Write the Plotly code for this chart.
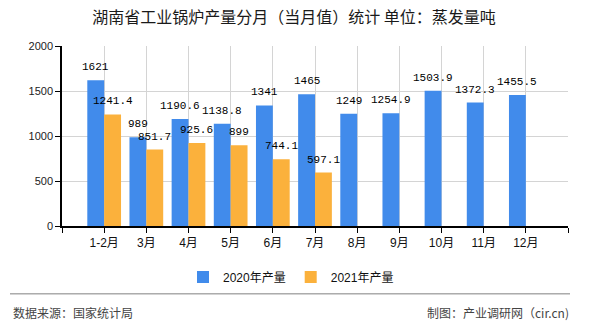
import plotly.graph_objects as go

categories = ["1-2月", "3月", "4月", "5月", "6月", "7月", "8月", "9月", "10月", "11月", "12月"]
prod_2020 = [1621, 989, 1190.6, 1138.8, 1341, 1465, 1249, 1254.9, 1503.9, 1372.3, 1455.5]
prod_2021 = [1241.4, 851.7, 925.6, 899, 744.1, 597.1]
series_names = ["2020年产量", "2021年产量"]
y_ticks = [0, 500, 1000, 1500, 2000]

BLUE = "#418BEB"
ORANGE = "#FBB13C"
W, H = 590, 330
L, R, T, B = 62, 22, 46, 101
PW, PH = W - L - R, H - T - B

xs = list(range(len(categories)))

fig = go.Figure()
fig.add_trace(go.Bar(x=xs, y=prod_2020, name=series_names[0], marker_color=BLUE,
                     marker_line_width=0))
fig.add_trace(go.Bar(x=xs[:len(prod_2021)], y=prod_2021, name=series_names[1],
                     marker_color=ORANGE, marker_line_width=0))

label_font = dict(family="Liberation Mono, monospace", size=11, color="#000")
slot_px = PW / 12.0
half_bar_px = slot_px * 0.8 / 4
for i, v in enumerate(prod_2020):
    fig.add_annotation(x=xs[i], y=v, text=f"{v:g}", showarrow=False, xshift=-half_bar_px,
                       yshift=13, font=label_font)
for i, v in enumerate(prod_2021):
    fig.add_annotation(x=xs[i], y=v, text=f"{v:g}", showarrow=False, xshift=half_bar_px,
                       yshift=13, font=label_font)

def px_to_paper_x(px):
    return (px - L) / PW

def px_to_paper_y(py):
    return (H - B - py) / PH

# separator line and footer
fig.add_shape(type="line", xref="paper", yref="paper",
              x0=px_to_paper_x(10), x1=px_to_paper_x(570),
              y0=px_to_paper_y(297.5), y1=px_to_paper_y(297.5),
              line=dict(color="#808080", width=1))
foot_font = dict(family="Noto Sans CJK SC, sans-serif", size=12, color="#444")
fig.add_annotation(xref="paper", yref="paper", x=px_to_paper_x(11), y=px_to_paper_y(316),
                   xanchor="left", yanchor="middle", text="数据来源：国家统计局",
                   showarrow=False, font=foot_font)
fig.add_annotation(xref="paper", yref="paper", x=px_to_paper_x(571), y=px_to_paper_y(316),
                   xanchor="right", yanchor="middle", text="制图：产业调研网（cir.cn)",
                   showarrow=False, font=foot_font)

tickvals = [-1] + xs + [len(categories)]
ticktext = [""] + categories + [""]

fig.update_layout(
    width=W, height=H,
    margin=dict(l=L, r=R, t=T, b=B, pad=0),
    paper_bgcolor="white", plot_bgcolor="white",
    barmode="group", bargap=0.2, bargroupgap=0,
    title=dict(text="湖南省工业锅炉产量分月（当月值）统计 单位：蒸发量吨",
               x=294 / W, xref="container", xanchor="center",
               y=1 - 17 / H, yref="container", yanchor="middle",
               font=dict(family="Noto Sans CJK SC, sans-serif", size=16, color="#1a1a1a")),
    xaxis=dict(range=[-1, len(categories)], tickmode="array", tickvals=tickvals,
               ticktext=ticktext, showgrid=True, gridcolor="#d4d4d4", gridwidth=1,
               showline=True, linecolor="#000", linewidth=1.5,
               ticks="outside", ticklen=5, tickcolor="#000",
               tickfont=dict(family="Liberation Sans, Noto Sans CJK SC, sans-serif",
                             size=12, color="#111"),
               zeroline=False, fixedrange=True),
    yaxis=dict(range=[0, 2000], tickmode="array", tickvals=y_ticks,
               showgrid=True, gridcolor="#d4d4d4", gridwidth=1,
               showline=True, linecolor="#000", linewidth=1.5,
               ticks="outside", ticklen=5, tickcolor="#000",
               tickfont=dict(family="Liberation Sans, sans-serif", size=11, color="#222"),
               zeroline=False, fixedrange=True),
    legend=dict(orientation="h", xref="container", yref="container",
                x=291 / W, xanchor="center", y=1 - 277 / H, yanchor="middle",
                font=dict(family="Liberation Sans, Noto Sans CJK SC, sans-serif",
                          size=12, color="#111"),
                itemsizing="constant", traceorder="normal"),
    showlegend=True,
)

fig.write_html("out.html")
